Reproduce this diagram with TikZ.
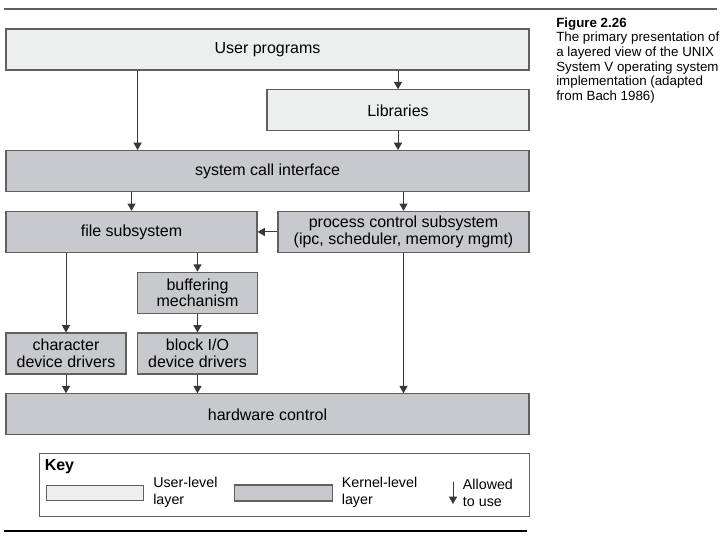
\documentclass[tikz,border=0pt]{standalone}
\usepackage{fontspec}
\setmainfont{Liberation Sans}
\usepackage{tikz}
\usetikzlibrary{arrows.meta,positioning,calc}
\usepackage{xcolor}

\definecolor{userfill}{RGB}{237,238,238}
\definecolor{kernfill}{RGB}{200,201,204}
\definecolor{boxline}{RGB}{95,95,95}
\definecolor{flowline}{RGB}{55,55,55}

\tikzset{
    layerbox/.style={draw=boxline, line width=0.8pt, inner sep=2pt, align=center,
        minimum height=30.75pt, font=\fontsize{12pt}{12.5pt}\selectfont},
    userbox/.style={layerbox, fill=userfill},
    kernbox/.style={layerbox, fill=kernfill},
    flow/.style={draw=flowline, line width=0.75pt, -{Triangle[width=6pt,length=5.5pt]}},
    keytext/.style={anchor=west, align=left, inner sep=0pt, font=\fontsize{10.7pt}{12.6pt}\selectfont},
}

\begin{document}
\begin{tikzpicture}[x=0.75pt, y=-0.75pt]
    % Page frame
    \useasboundingbox (0,0) rectangle (727,536);
    \draw[boxline, line width=0.8pt] (4,9) -- (717,9);
    \draw[black, line width=1pt] (4,531) -- (527,531);

    % Caption
    \node[anchor=north west, align=left, inner sep=0pt,
          font=\fontsize{10pt}{10.9pt}\selectfont] (caption) at (556,17.5)
        {\textbf{Figure 2.26}\\The primary presentation of\\a layered view of the UNIX\\System V operating system\\implementation (adapted\\from Bach 1986)};

    % Layers
    \node[userbox, minimum width=392.25pt] (user) at (267.5,49.5) {User programs};
    \node[userbox, minimum width=196.5pt] (libs) at (398,110.3) {Libraries};
    \node[kernbox, minimum width=392.25pt] (sys) at (267.5,171.1) {system call interface};
    \node[kernbox, minimum width=188.25pt] (file) at (131.5,231.9) {file subsystem};
    \node[kernbox, minimum width=188.25pt] (proc) at (403.5,231.9) {process control subsystem\\(ipc, scheduler, memory mgmt)};
    \node[kernbox, minimum width=89.5pt] (buffer) at (197.5,292.7) {buffering\\mechanism};
    \node[kernbox, minimum width=90pt] (chardrv) at (66,353.5) {character\\device drivers};
    \node[kernbox, minimum width=89.5pt] (blockdrv) at (197.5,353.5) {block I/O\\device drivers};
    \node[kernbox, minimum width=392.25pt] (hw) at (267.5,414.3) {hardware control};

    % Allowed-to-use arrows
    \draw[flow] (137.6,0 |- user.south) -- (137.6,0 |- sys.north);
    \draw[flow] (libs.north |- user.south) -- (libs.north);
    \draw[flow] (libs.south) -- (libs.south |- sys.north);
    \draw[flow] (file.north |- sys.south) -- (file.north);
    \draw[flow] (proc.north |- sys.south) -- (proc.north);
    \draw[flow] (proc.west) -- (file.east);
    \draw[flow] (chardrv.north |- file.south) -- (chardrv.north);
    \draw[flow] (buffer.north |- file.south) -- (buffer.north);
    \draw[flow] (buffer.south) -- (blockdrv.north);
    \draw[flow] (chardrv.south) -- (chardrv.south |- hw.north);
    \draw[flow] (blockdrv.south) -- (blockdrv.south |- hw.north);
    \draw[flow] (proc.south) -- (proc.south |- hw.north);

    % Key
    \node[draw=boxline, line width=0.7pt, minimum width=367pt, minimum height=47pt] (key) at (284.3,484.7) {};
    \node[anchor=north west, inner sep=0pt, font=\fontsize{12pt}{12pt}\selectfont\bfseries] (keytitle) at (44.5,459) {Key};
    \node[draw=boxline, line width=0.8pt, fill=userfill, minimum width=73pt, minimum height=11.5pt, inner sep=0pt] (userkey) at (95.2,492.7) {};
    \node[keytext] (userlabel) at (153,492.6) {User-level\\layer};
    \node[draw=boxline, line width=0.8pt, fill=kernfill, minimum width=73.5pt, minimum height=12pt, inner sep=0pt] (kernkey) at (283.6,493) {};
    \node[keytext] (kernlabel) at (341.6,492.6) {Kernel-level\\layer};
    \coordinate (arrowtop) at (453,481.6);
    \coordinate (arrowbot) at (453,504);
    \draw[flow] (arrowtop) -- (arrowbot);
    \node[keytext] (arrowlabel) at (462.7,492.6) {Allowed\\to use};

\end{tikzpicture}
\end{document}
